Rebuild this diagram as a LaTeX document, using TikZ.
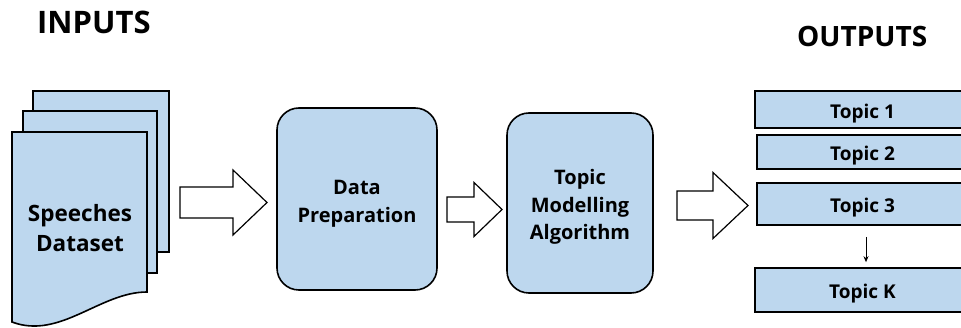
\documentclass[tikz,border=0pt]{standalone}
\usepackage{fontspec}
\setmainfont{Open Sans}
\usetikzlibrary{positioning,arrows.meta}
\definecolor{paleblue}{RGB}{189,215,238}

\tikzset{
  page/.style={draw=black,line width=1.6pt,fill=paleblue},
  stage/.style={page,rounded corners=22pt},
  stagetext/.style={align=center,font=\bfseries\fontsize{20}{27.5}\selectfont},
  topic/.style={page,text height=18pt,text depth=0pt,font=\bfseries\fontsize{19}{22}\selectfont},
  fatarrow/.style={draw=black,line width=1.2pt,fill=white,line join=miter},
  title/.style={anchor=west,inner sep=0pt,font=\bfseries\fontsize{31}{36}\selectfont}
}

\begin{document}
\begin{tikzpicture}[x=1pt,y=-1pt]
\useasboundingbox (0,0) rectangle (961,328);

% titles
\node[title] (inputs) at (37,22.5) {INPUTS};
\node[title,font=\bfseries\fontsize{28}{30}\selectfont] (outputs) at (797,36) {OUTPUTS};

% stack of pages
\draw[page] (33,91) rectangle (169,252);
\draw[page] (23,111) rectangle (157,273);
\draw[page] (12,322) -- (12,132) -- (147,132) -- (147,292)
  .. controls (100,292) and (60,340) .. (12,322) -- cycle;
\node[align=center,font=\bfseries\fontsize{22.5}{30}\selectfont] (speeches) at (80,228) {Speeches\\Dataset};

% stages
\node[stage,minimum width=160pt,minimum height=182pt] (prep) at (357,199) {};
\node[stagetext] (preptext) at ([yshift=-5pt]prep.center) {Data\\Preparation};
\node[stage,minimum width=146pt,minimum height=180pt] (model) at (580,203) {};
\node[stagetext] (modeltext) at ([yshift=-4pt]model.center) {Topic\\Modelling\\Algorithm};

% topics
\node[topic,minimum width=215pt,minimum height=37pt] (t1) at (862.5,109.5) {Topic 1};
\node[topic,minimum width=211pt,minimum height=34pt] (t2) at (862.5,152) {Topic 2};
\node[topic,minimum width=211pt,minimum height=42pt] (t3) at (862.5,204) {Topic 3};
\node[topic,minimum width=215pt,minimum height=44pt] (tK) at (862.5,290) {Topic K};

\draw[-{Stealth[length=6pt,width=5pt]},line width=0.9pt,shorten <=11pt,shorten >=5pt]
  ([xshift=3.5pt]t3.south) -- ([xshift=3.5pt]tK.north);

% block arrows
\foreach \xa/\xh/\xb/\ym/\sh/\hh in {180/233/267/202.5/15.5/32.5,
    447/474/502/209.5/12.5/27, 677/713/748/205.5/14.5/33}
  \draw[fatarrow] (\xa,\ym-\sh) -- (\xh,\ym-\sh) -- (\xh,\ym-\hh) -- (\xb,\ym)
    -- (\xh,\ym+\hh) -- (\xh,\ym+\sh) -- (\xa,\ym+\sh) -- cycle;
\end{tikzpicture}
\end{document}
